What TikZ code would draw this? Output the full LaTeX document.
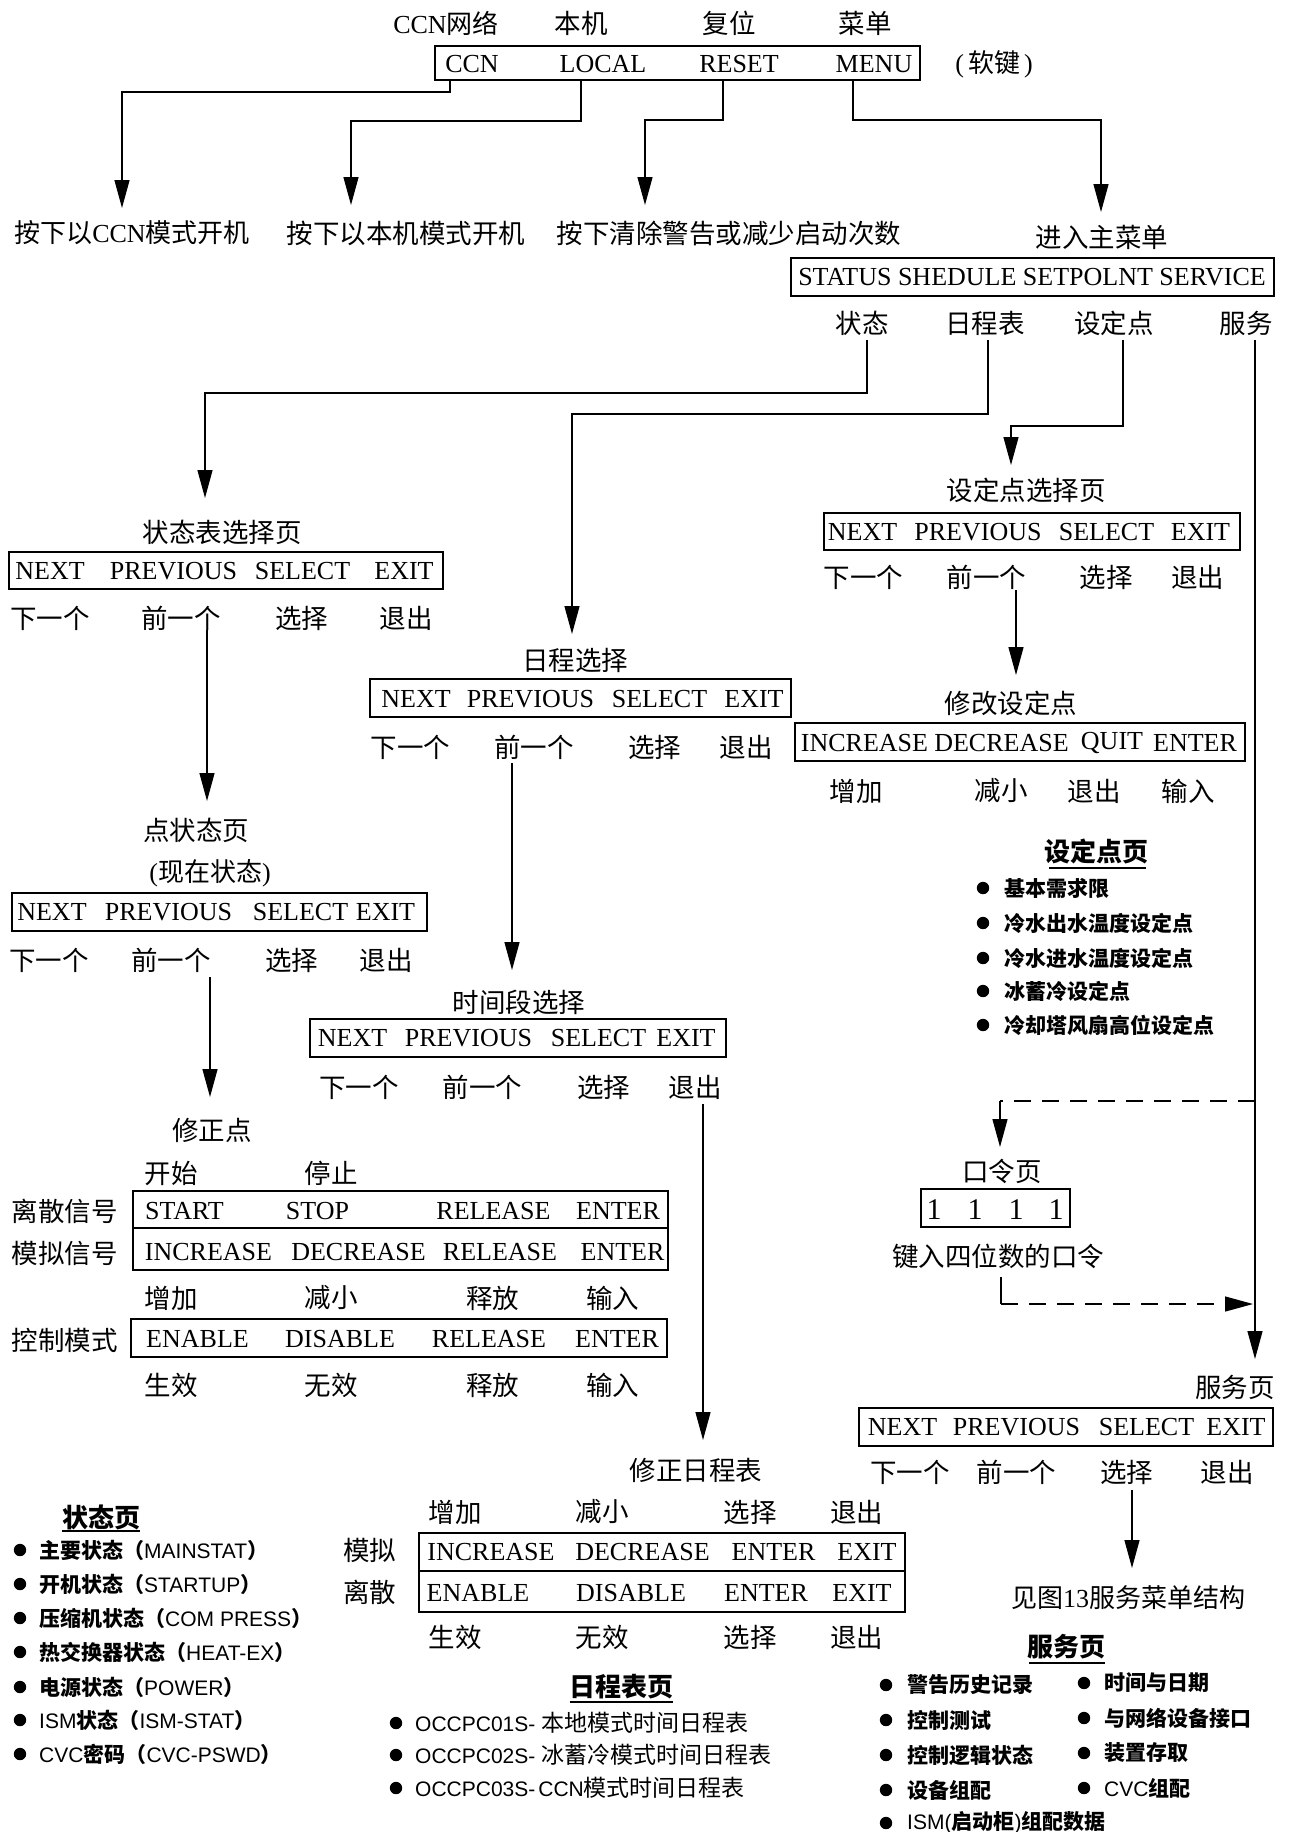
\documentclass[tikz,border=0pt]{standalone}
\usepackage{fontspec}
\setmainfont{Liberation Serif}
\newfontfamily\cjk{Noto Sans CJK SC}
\newfontfamily\lsans{Liberation Sans}
\usetikzlibrary{arrows.meta}
\newcommand\zh[1]{{\cjk #1}}
\newcommand\zb[1]{{\cjk\bfseries #1}}
\tikzset{
 zl/.style={inner sep=0pt, font=\cjk\fontsize{26.5}{27}\selectfont},
 en/.style={inner sep=0pt, font=\fontsize{26}{27}\selectfont},
 hd/.style={inner sep=0pt, font=\cjk\bfseries\fontsize{26}{27}\selectfont},
 li/.style={inner sep=0pt, anchor=west, font=\lsans\fontsize{21}{22}\selectfont},
 boxl/.style={line width=1.4pt},
 con/.style={line width=1.3pt},
 arr/.style={con, -{Triangle[length=28pt,width=15pt]}},
 dsh/.style={con, dash pattern=on 17pt off 11pt},
}
\newcommand\Z[3]{\node[zl] (#1) at (#2) {#3};}
\newcommand\E[3]{\node[en] (#1) at (#2) {#3};}
\newcommand\B[2]{\fill (#1,#2) circle[radius=6.2pt];}
\begin{document}
\begin{tikzpicture}[x=1pt,y=-1pt]
\fill[white] (0,0) rectangle (1289,1832);
\useasboundingbox (0,0) rectangle (1289,1832);
% ---------- soft keys
\E{t1}{446,23}{CCN\zh{网络}}
\Z{t2}{581,23}{本机}
\Z{t3}{729,23}{复位}
\Z{t4}{865,23}{菜单}
\draw[boxl] (435,46) rectangle (920,80);
\E{k1}{472,64}{CCN}
\E{k2}{603,64}{LOCAL}
\E{k3}{739,64}{RESET}
\E{k4}{874,64}{MENU}
\E{soft}{994,64}{(\kern4pt\zh{软键}\kern4pt)}
\coordinate (s1) at (450,80); \coordinate (e1) at (122,208);
\coordinate (s2) at (581,80); \coordinate (e2) at (351,205);
\coordinate (s3) at (723,80); \coordinate (e3) at (645,205);
\coordinate (s4) at (853,80); \coordinate (e4) at (1101,212);
\draw[arr] (s1) -- ++(0,12) -| (e1);
\draw[arr] (s2) -- ++(0,41) -| (e2);
\draw[arr] (s3) -- ++(0,40) -| (e3);
\draw[arr] (s4) -- ++(0,40) -| (e4);
\E{p1}{132,233}{\zh{按下以}CCN\zh{模式开机}}
\Z{p2}{406,233}{按下以本机模式开机}
\Z{p3}{729,233}{按下清除警告或减少启动次数}
\Z{p4}{1102,237}{进入主菜单}
% ---------- main menu
\draw[boxl] (791,258) rectangle (1274,296);
\E{mm}{1032,277}{STATUS SHEDULE SETPOLNT SERVICE}
\Z{m1}{862,323}{状态}
\Z{m2}{985,323}{日程表}
\Z{m3}{1114,323}{设定点}
\Z{m4}{1246,323}{服务}
\coordinate (s5) at (867,340); \coordinate (e5) at (205,498);
\coordinate (s6) at (988,340); \coordinate (e6) at (572,634);
\coordinate (s7) at (1123,340); \coordinate (e7) at (1011,465);
\coordinate (s8) at (1255,340); \coordinate (e8) at (1255,1359);
\draw[arr] (s5) -- ++(0,53) -| (e5);
\draw[arr] (s6) -- ++(0,74) -| (e6);
\draw[arr] (s7) -- ++(0,86) -| (e7);
\draw[arr] (s8) -- (e8);
% ---------- status select page
\Z{a0}{222,532}{状态表选择页}
\draw[boxl] (9,552) rectangle (443,589);
\E{a1}{50,571}{NEXT}
\E{a2}{173.5,571}{PREVIOUS}
\E{a3}{302.5,571}{SELECT}
\E{a4}{404,571}{EXIT}
\Z{a5}{50,618}{下一个}
\Z{a6}{181,618}{前一个}
\Z{a7}{301.5,618}{选择}
\Z{a8}{406,618}{退出}
\coordinate (s9) at (207,630); \coordinate (e9) at (207,801);
\draw[arr] (s9) -- (e9);
% ---------- point status page
\Z{b0}{196,830}{点状态页}
\E{b9}{210,873}{(\zh{现在状态})}
\draw[boxl] (12,893) rectangle (427,931);
\E{b1}{52,912}{NEXT}
\E{b2}{168.5,912}{PREVIOUS}
\E{b3}{300.5,912}{SELECT}
\E{b4}{385.5,912}{EXIT}
\Z{b5}{49,960}{下一个}
\Z{b6}{171,960}{前一个}
\Z{b7}{291.5,960}{选择}
\Z{b8}{386,960}{退出}
\coordinate (s10) at (210,977); \coordinate (e10) at (210,1097);
\draw[arr] (s10) -- (e10);
% ---------- override point
\Z{c0}{212,1130}{修正点}
\Z{c1}{171,1173}{开始}
\Z{c2}{331,1173}{停止}
\draw[boxl] (133,1191) rectangle (668,1228);
\draw[boxl] (133,1228) rectangle (668,1270);
\Z{c3}{65,1211}{离散信号}
\E{c4}{184.5,1211}{START}
\E{c5}{317.5,1211}{STOP}
\E{c6}{493.5,1211}{RELEASE}
\E{c7}{618,1211}{ENTER}
\Z{c8}{65,1253}{模拟信号}
\E{c9}{208.5,1252}{INCREASE}
\E{c10}{358.5,1252}{DECREASE}
\E{c11}{500,1252}{RELEASE}
\E{c12}{622.5,1252}{ENTER}
\Z{c13}{171,1298}{增加}
\Z{c14}{331,1298}{减小}
\Z{c15}{492.5,1298}{释放}
\Z{c16}{612.5,1298}{输入}
\Z{c17}{65,1340}{控制模式}
\draw[boxl] (131,1319) rectangle (667,1357);
\E{c18}{197.5,1339}{ENABLE}
\E{c19}{340,1339}{DISABLE}
\E{c20}{489,1339}{RELEASE}
\E{c21}{617,1339}{ENTER}
\Z{c22}{171,1385}{生效}
\Z{c23}{331,1385}{无效}
\Z{c24}{492.5,1385}{释放}
\Z{c25}{612.5,1385}{输入}
% ---------- schedule select
\Z{d0}{575,660}{日程选择}
\draw[boxl] (370,679) rectangle (791,717);
\E{d1}{416,699}{NEXT}
\E{d2}{530.5,699}{PREVIOUS}
\E{d3}{659.5,699}{SELECT}
\E{d4}{754,699}{EXIT}
\Z{d5}{410.5,747}{下一个}
\Z{d6}{534,747}{前一个}
\Z{d7}{654.5,747}{选择}
\Z{d8}{746,747}{退出}
\coordinate (s11) at (512,763); \coordinate (e11) at (512,970);
\draw[arr] (s11) -- (e11);
% ---------- time period select
\Z{f0}{519,1002}{时间段选择}
\draw[boxl] (310,1019) rectangle (726,1057);
\E{f1}{352.5,1038}{NEXT}
\E{f2}{468.5,1038}{PREVIOUS}
\E{f3}{598.5,1038}{SELECT}
\E{f4}{686,1038}{EXIT}
\Z{f5}{359,1087}{下一个}
\Z{f6}{482.5,1087}{前一个}
\Z{f7}{603.5,1087}{选择}
\Z{f8}{695,1087}{退出}
\coordinate (s12) at (703,1104); \coordinate (e12) at (703,1440);
\draw[arr] (s12) -- (e12);
% ---------- override schedule
\Z{g0}{696,1470}{修正日程表}
\Z{g1}{455,1512}{增加}
\Z{g2}{602,1512}{减小}
\Z{g3}{750,1512}{选择}
\Z{g4}{856.5,1512}{退出}
\Z{g5}{369.5,1550}{模拟}
\Z{g6}{369.5,1592}{离散}
\draw[boxl] (419,1533) rectangle (905,1571);
\draw[boxl] (419,1571) rectangle (905,1612);
\E{g7}{491,1552}{INCREASE}
\E{g8}{642.5,1552}{DECREASE}
\E{g9}{773.5,1552}{ENTER}
\E{g10}{867,1552}{EXIT}
\E{g11}{478,1593}{ENABLE}
\E{g12}{631,1593}{DISABLE}
\E{g13}{766,1593}{ENTER}
\E{g14}{862,1593}{EXIT}
\Z{g15}{455,1637}{生效}
\Z{g16}{602,1637}{无效}
\Z{g17}{750,1637}{选择}
\Z{g18}{856.5,1637}{退出}
% ---------- setpoint select
\Z{h0}{1026,490}{设定点选择页}
\draw[boxl] (824,513) rectangle (1240,550);
\E{h1}{862.5,532}{NEXT}
\E{h2}{978,532}{PREVIOUS}
\E{h3}{1106.5,532}{SELECT}
\E{h4}{1200.5,532}{EXIT}
\Z{h5}{863.5,577}{下一个}
\Z{h6}{986.5,577}{前一个}
\Z{h7}{1106,577}{选择}
\Z{h8}{1197.5,577}{退出}
\coordinate (s13) at (1016,590); \coordinate (e13) at (1016,675);
\draw[arr] (s13) -- (e13);
\Z{i0}{1011,703}{修改设定点}
\draw[boxl] (795,723) rectangle (1245,761);
\E{i1}{864.5,743}{INCREASE}
\E{i2}{1001.5,743}{DECREASE}
\E{i3}{1112,743}{QUIT}
\E{i4}{1195,743}{ENTER}
\Z{i5}{856,791}{增加}
\Z{i6}{1001,791}{减小}
\Z{i7}{1094,791}{退出}
\Z{i8}{1188,791}{输入}
% setpoint list
\node[hd] (j0) at (1096,851) {设定点页};
\draw[con] (1049,868) -- (1146,868);
\B{983}{888}\node[li] (j1) at (1004,888) {\zb{基本需求限}};
\B{983}{923}\node[li] (j2) at (1004,923) {\zb{冷水出水温度设定点}};
\B{983}{958}\node[li] (j3) at (1004,958) {\zb{冷水进水温度设定点}};
\B{983}{991}\node[li] (j4) at (1004,991) {\zb{冰蓄冷设定点}};
\B{983}{1025}\node[li] (j5) at (1004,1025) {\zb{冷却塔风扇高位设定点}};
% ---------- password
\coordinate (q1) at (1255,1101); \coordinate (q2) at (1000,1101); \coordinate (q3) at (1000,1147);
\draw[dsh] (q1) -- (q2);
\draw[arr] (q2) -- (q3);
\Z{k0}{1002,1171}{口令页}
\draw[boxl] (921,1189) rectangle (1070,1227);
\node[en, font=\fontsize{30}{30}\selectfont] (k5) at (934,1210) {1};
\node[en, font=\fontsize{30}{30}\selectfont] (k6) at (975,1210) {1};
\node[en, font=\fontsize{30}{30}\selectfont] (k7) at (1016,1210) {1};
\node[en, font=\fontsize{30}{30}\selectfont] (k8) at (1056,1210) {1};
\Z{k9}{998,1256}{键入四位数的口令}
\coordinate (q4) at (1001,1277); \coordinate (q5) at (1001,1304); \coordinate (q6) at (1253,1304);
\draw[con] (q4) -- (q5);
\draw[dsh, -{Triangle[length=28pt,width=15pt]}] (q5) -- (q6);
% ---------- service page
\Z{n0}{1235,1387}{服务页}
\draw[boxl] (859,1408) rectangle (1273,1446);
\E{n1}{902.5,1427}{NEXT}
\E{n2}{1016.5,1427}{PREVIOUS}
\E{n3}{1146.5,1427}{SELECT}
\E{n4}{1236,1427}{EXIT}
\Z{n5}{910,1472}{下一个}
\Z{n6}{1016.5,1472}{前一个}
\Z{n7}{1126.5,1472}{选择}
\Z{n8}{1227,1472}{退出}
\coordinate (s14) at (1132,1490); \coordinate (e14) at (1132,1568);
\draw[arr] (s14) -- (e14);
\E{n9}{1128,1598}{\zh{见图}13\zh{服务菜单结构}}
% service list
\node[hd] (o0) at (1066,1647) {服务页};
\draw[con] (1029,1663) -- (1105,1663);
\B{886}{1685}\node[li] (o1) at (907,1685) {\zb{警告历史记录}};
\B{886}{1720}\node[li] (o2) at (907,1720) {\zb{控制测试}};
\B{886}{1755}\node[li] (o3) at (907,1755) {\zb{控制逻辑状态}};
\B{886}{1790}\node[li] (o4) at (907,1790) {\zb{设备组配}};
\B{886}{1823}\node[li] (o5) at (907,1823) {ISM(\zb{启动柜})\zb{组配数据}};
\B{1084}{1683}\node[li] (o6) at (1104,1683) {\zb{时间与日期}};
\B{1084}{1718}\node[li] (o7) at (1104,1718) {\zb{与网络设备接口}};
\B{1084}{1753}\node[li] (o8) at (1104,1753) {\zb{装置存取}};
\B{1084}{1788}\node[li] (o9) at (1104,1788) {CVC\zb{组配}};
% status list
\node[hd] (r0) at (101,1517) {状态页};
\draw[con] (62,1531) -- (140,1531);
\B{20}{1550}\node[li] (r1) at (39,1550) {\zb{主要状态（}MAINSTAT\zb{）}};
\B{20}{1584}\node[li] (r2) at (39,1584) {\zb{开机状态（}STARTUP\zb{）}};
\B{20}{1618}\node[li] (r3) at (39,1618) {\zb{压缩机状态（}COM PRESS\zb{）}};
\B{20}{1652}\node[li] (r4) at (39,1652) {\zb{热交换器状态（}HEAT-EX\zb{）}};
\B{20}{1687}\node[li] (r5) at (39,1687) {\zb{电源状态（}POWER\zb{）}};
\B{20}{1720}\node[li] (r6) at (39,1720) {ISM\zb{状态（}ISM-STAT\zb{）}};
\B{20}{1754}\node[li] (r7) at (39,1754) {CVC\zb{密码（}CVC-PSWD\zb{）}};
% schedule list
\node[hd] (u0) at (621,1687) {日程表页};
\draw[con] (570,1702) -- (673,1702);
\B{396}{1723}\node[li] (u1) at (415,1723) {OCCPC01S-\kern6pt{\cjk\fontsize{23}{23}\selectfont 本地模式时间日程表}};
\B{396}{1755}\node[li] (u2) at (415,1755) {OCCPC02S-\kern6pt{\cjk\fontsize{23}{23}\selectfont 冰蓄冷模式时间日程表}};
\B{396}{1788}\node[li] (u3) at (415,1788) {OCCPC03S-\kern3pt CCN{\cjk\fontsize{23}{23}\selectfont 模式时间日程表}};
\end{tikzpicture}
\end{document}
